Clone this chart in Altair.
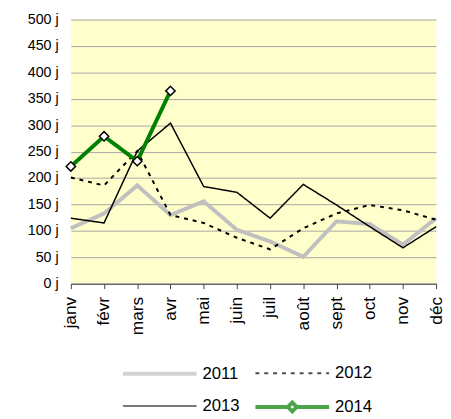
import altair as alt
import pandas as pd

months = ['janv', 'févr', 'mars', 'avr', 'mai', 'juin',
          'juil', 'août', 'sept', 'oct', 'nov', 'déc']
years = ['2011', '2012', '2013', '2014']

v2011 = [105, 133, 186, 130, 156, 102, 80, 51, 118, 113, 74, 124]
v2012 = [201, 186, 251, 130, 115, 87, 65, 105, 133, 149, 139, 121]
v2013 = [124, 115, 251, 304, 184, 173, 124, 188, 149, 108, 68, 108]
v2014 = [222, 279, 232, 365]

rows = []
for year, vals in zip(years, [v2011, v2012, v2013, v2014]):
    for m, v in zip(months, vals):
        rows.append({'mois': m, 'annee': year, 'jours': v})
df = pd.DataFrame(rows)

FONT = 'Liberation Sans'
colors = ['#C0C0C0', '#000000', '#000000', '#008000']
dashes = [[1, 0], [4, 5], [1, 0], [1, 0]]
widths = [4, 2, 1.5, 4]
# legend keys: long strokes drawn outside the small symbol box
line_path = 'M-5,0L5,0'
diamond_path = 'M-5,0L-0.6,0M0.6,0L5,0M0,-0.6L0.6,0L0,0.6L-0.6,0Z'
shapes = [line_path, line_path, line_path, diamond_path]
fills = ['transparent', 'transparent', 'transparent', 'white']

x_enc = alt.X('mois:O', sort=months, scale=alt.Scale(type='point', padding=0),
              axis=alt.Axis(title=None, labelAngle=-90, labelFontSize=17.5,
                            labelFont=FONT, labelColor='black', labelPadding=8,
                            domainColor='#404040', tickColor='#404040',
                            tickSize=5, grid=False))
y_enc = alt.Y('jours:Q', scale=alt.Scale(domain=[0, 500]),
              axis=alt.Axis(title=None, values=list(range(0, 501, 50)),
                            labelExpr="datum.value + ' j'", labelFontSize=14.5,
                            labelFont=FONT, labelColor='black', labelPadding=13,
                            domain=False, ticks=False, gridColor='#A6A6A6'))

legend = alt.Legend(title=None, orient='none', legendX=81, legendY=351,
                    columns=2, direction='horizontal', labelFontSize=17,
                    labelFont=FONT, labelColor='black', symbolSize=225,
                    labelOffset=34, columnPadding=8, rowPadding=13)

lines = alt.Chart(df).mark_line(strokeCap='butt').encode(
    x=x_enc,
    y=y_enc,
    color=alt.Color('annee:N', scale=alt.Scale(domain=years, range=colors), legend=legend),
    strokeDash=alt.StrokeDash('annee:N', scale=alt.Scale(domain=years, range=dashes), legend=legend),
    strokeWidth=alt.StrokeWidth('annee:N', scale=alt.Scale(type='ordinal', domain=years, range=widths), legend=legend),
)

legend_keys = alt.Chart(df).mark_point(filled=False).encode(
    x=x_enc,
    y=y_enc,
    shape=alt.Shape('annee:N', scale=alt.Scale(domain=years, range=shapes), legend=legend),
    fill=alt.Fill('annee:N', scale=alt.Scale(domain=years, range=fills), legend=legend),
).transform_filter('false')

points = alt.Chart(df).mark_point(
    shape='diamond', filled=True, fill='white', stroke='black',
    strokeWidth=1.5, size=90, opacity=1
).encode(
    x=x_enc,
    y=y_enc,
).transform_filter("datum.annee == '2014'")

chart = alt.layer(lines, legend_keys, points).properties(
    width=372,
    height=269,
    autosize=alt.AutoSizeParams(type='none'),
    padding={'left': 64, 'top': 8, 'right': 7, 'bottom': 134},
    background='white',
).configure_view(fill='#FFFFCC', stroke=None)

chart.save('out.html', embed_options={'renderer': 'svg', 'actions': False})
